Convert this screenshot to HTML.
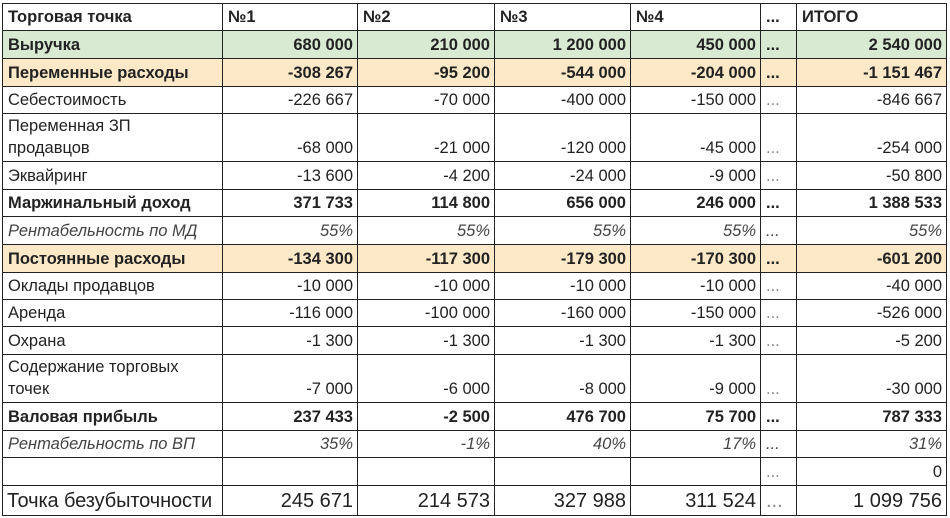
<!DOCTYPE html>
<html><head><meta charset="utf-8"><style>
body{margin:0;background:#fff;width:950px;height:518px;overflow:hidden}
table{position:absolute;left:2px;top:3px;border-collapse:collapse;table-layout:fixed;font-family:"Liberation Sans",Arial,sans-serif;font-size:16.5px;color:#222}
td{border:1px solid #222;padding:0 4px 2px 5px;vertical-align:bottom;text-align:right;white-space:nowrap;overflow:hidden;line-height:22px}
td:first-child{text-align:left;white-space:normal}
td.h{text-align:left}
td.d{text-align:left;color:#888}
tr.b td{font-weight:bold}
tr.b td.d{color:#222}
tr.i td{font-style:italic;color:#444}
tr.g td{background:#d9ead3}
tr.o td{background:#fde9c8}
tr.big td{font-size:20px;line-height:26px;padding-bottom:1px;white-space:nowrap}
tr.big td:first-child{padding-left:4px;letter-spacing:-0.1px}
</style></head><body>
<table>
<colgroup><col style="width:220px"><col style="width:135px"><col style="width:137px"><col style="width:136px"><col style="width:130px"><col style="width:36px"><col style="width:150px"></colgroup>
<tr class="b" style="height:27px"><td>Торговая точка</td><td class="h">№1</td><td class="h">№2</td><td class="h">№3</td><td class="h">№4</td><td class="d">...</td><td class="h">ИТОГО</td></tr>
<tr class="b g" style="height:28px"><td>Выручка</td><td>680 000</td><td>210 000</td><td>1 200 000</td><td>450 000</td><td class="d">...</td><td>2 540 000</td></tr>
<tr class="b o" style="height:28px"><td>Переменные расходы</td><td>-308 267</td><td>-95 200</td><td>-544 000</td><td>-204 000</td><td class="d">...</td><td>-1 151 467</td></tr>
<tr style="height:27px"><td>Себестоимость</td><td>-226 667</td><td>-70 000</td><td>-400 000</td><td>-150 000</td><td class="d">...</td><td>-846 667</td></tr>
<tr style="height:48px"><td>Переменная ЗП<br>продавцов</td><td>-68 000</td><td>-21 000</td><td>-120 000</td><td>-45 000</td><td class="d">...</td><td>-254 000</td></tr>
<tr style="height:28px"><td>Эквайринг</td><td>-13 600</td><td>-4 200</td><td>-24 000</td><td>-9 000</td><td class="d">...</td><td>-50 800</td></tr>
<tr class="b" style="height:27px"><td>Маржинальный доход</td><td>371 733</td><td>114 800</td><td>656 000</td><td>246 000</td><td class="d">...</td><td>1 388 533</td></tr>
<tr class="i" style="height:28px"><td>Рентабельность по МД</td><td>55%</td><td>55%</td><td>55%</td><td>55%</td><td class="d">...</td><td>55%</td></tr>
<tr class="b o" style="height:28px"><td>Постоянные расходы</td><td>-134 300</td><td>-117 300</td><td>-179 300</td><td>-170 300</td><td class="d">...</td><td>-601 200</td></tr>
<tr style="height:27px"><td>Оклады продавцов</td><td>-10 000</td><td>-10 000</td><td>-10 000</td><td>-10 000</td><td class="d">...</td><td>-40 000</td></tr>
<tr style="height:27px"><td>Аренда</td><td>-116 000</td><td>-100 000</td><td>-160 000</td><td>-150 000</td><td class="d">...</td><td>-526 000</td></tr>
<tr style="height:28px"><td>Охрана</td><td>-1 300</td><td>-1 300</td><td>-1 300</td><td>-1 300</td><td class="d">...</td><td>-5 200</td></tr>
<tr style="height:48px"><td>Содержание торговых<br>точек</td><td>-7 000</td><td>-6 000</td><td>-8 000</td><td>-9 000</td><td class="d">...</td><td>-30 000</td></tr>
<tr class="b" style="height:28px"><td>Валовая прибыль</td><td>237 433</td><td>-2 500</td><td>476 700</td><td>75 700</td><td class="d">...</td><td>787 333</td></tr>
<tr class="i" style="height:27px"><td>Рентабельность по ВП</td><td>35%</td><td>-1%</td><td>40%</td><td>17%</td><td class="d">...</td><td>31%</td></tr>
<tr style="height:28px"><td></td><td></td><td></td><td></td><td></td><td class="d">...</td><td>0</td></tr>
<tr class="big" style="height:30px"><td>Точка безубыточности</td><td>245 671</td><td>214 573</td><td>327 988</td><td>311 524</td><td class="d">...</td><td>1 099 756</td></tr>
</table>
</body></html>
